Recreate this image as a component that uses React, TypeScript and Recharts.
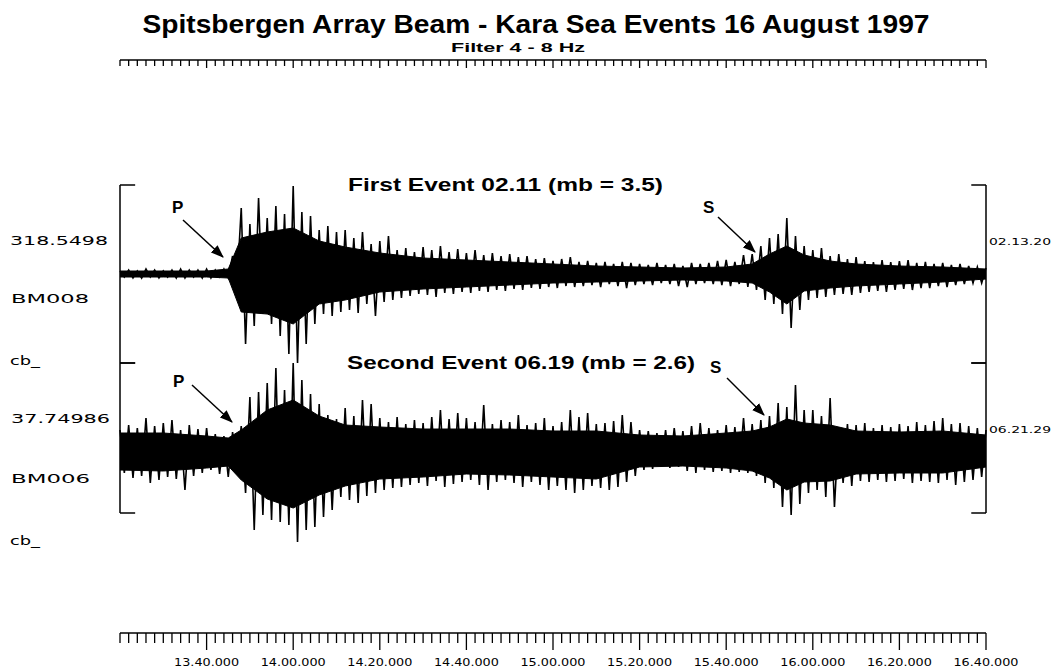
import { Area, ComposedChart, Line, ReferenceLine, XAxis, YAxis } from "recharts";

// time axis in seconds after 13.20.000 -> 800 s, one envelope sample every 2 s
const START = 800;
const STEP = 2;

// First event 02.11 (BM008): peak upward / downward excursion per sample
const beam1Up = [
  3, 4, 3, 5, 4, 3, 4, 5, 4, 4, 5, 4, 5,
  18, 66, 50, 76, 56, 68, 60, 88,
  62, 58, 44, 48, 42, 44, 36, 42, 30, 33,
  38, 24, 26, 22, 27, 24, 28, 22, 25, 21,
  24, 19, 21, 18, 20, 17, 18, 15, 16, 13,
  15, 17, 12, 13, 11, 12, 10, 12, 11, 10,
  9, 11, 9, 10, 8, 11, 10, 11, 13, 14,
  12, 19, 20, 28, 36, 40, 56, 38, 28, 24,
  26, 18, 20, 15, 17, 13, 12, 14, 12, 13,
  14, 11, 12, 10, 11, 9, 10, 8, 7, 6,
];
const beam1Down = [
  3, 4, 4, 3, 4, 3, 4, 4, 3, 4, 4, 3, 4,
  12, 70, 52, 40, 50, 62, 80, 89,
  70, 50, 40, 42, 38, 36, 39, 30, 42, 28,
  26, 24, 22, 20, 21, 23, 19, 20, 18, 19,
  17, 18, 16, 17, 15, 16, 14, 15, 13, 14,
  12, 13, 12, 11, 13, 10, 12, 14, 11, 10,
  11, 9, 10, 12, 13, 10, 9, 10, 11, 12,
  10, 13, 16, 26, 30, 40, 54, 36, 26, 24,
  23, 21, 20, 21, 19, 18, 17, 18, 16, 15,
  16, 14, 14, 12, 13, 11, 10, 9, 9, 8,
];

// Second event 06.19 (BM006)
const beam2Up = [
  22, 27, 24, 34, 26, 29, 32, 22, 27, 23, 24, 18, 16,
  20, 26, 55, 60, 69, 84, 62, 89,
  72, 58, 48, 37, 33, 44, 36, 52, 48, 34,
  30, 35, 28, 32, 29, 35, 42, 33, 39, 34,
  30, 47, 28, 32, 30, 37, 27, 29, 34, 26,
  30, 42, 35, 39, 28, 29, 31, 37, 30, 22,
  21, 19, 22, 24, 21, 26, 29, 24, 22, 27,
  25, 34, 28, 32, 36, 49, 45, 67, 42, 42,
  36, 54, 25, 28, 27, 29, 24, 27, 25, 28,
  26, 30, 27, 31, 34, 28, 29, 26, 24, 22,
];
const beam2Down = [
  21, 26, 24, 31, 28, 25, 27, 38, 24, 21, 18, 22, 25,
  15, 41, 78, 63, 68, 70, 73, 90,
  78, 75, 65, 58, 45, 48, 51, 44, 41, 38,
  36, 35, 33, 31, 34, 29, 35, 32, 30, 28,
  33, 38, 30, 28, 31, 35, 30, 33, 38, 34,
  38, 41, 38, 34, 36, 38, 35, 30, 24, 18,
  17, 15, 16, 15, 19, 21, 18, 20, 19, 21,
  20, 21, 24, 31, 36, 55, 63, 52, 41, 38,
  45, 55, 31, 34, 29, 30, 28, 30, 29, 27,
  31, 29, 30, 31, 28, 33, 30, 28, 25, 18,
];

// width of the solid (saturated) part of each trace, read at these times
const solidTimes = [800, 810, 820, 825, 828, 834, 840, 846, 852, 860, 870, 880, 890, 900, 910, 920, 930, 940, 946, 950, 954, 958, 964, 970, 980, 990, 1000];
const beam1SolidUp = [3, 3, 3, 5, 36, 42, 46, 33, 27, 21, 16, 14, 12, 10, 8, 7, 6, 7, 10, 20, 28, 19, 13, 10, 8, 7, 5];
const beam1SolidDown = [3, 3, 3, 4, 38, 40, 50, 30, 26, 18, 15, 13, 11, 9, 8, 7, 6, 7, 9, 18, 30, 17, 14, 12, 10, 8, 5];
const beam2SolidUp = [19, 19, 16, 14, 22, 42, 52, 36, 27, 25, 23, 23, 23, 21, 21, 17, 16, 19, 21, 25, 33, 29, 27, 21, 20, 21, 17];
const beam2SolidDown = [18, 19, 16, 14, 28, 47, 56, 43, 34, 27, 25, 22, 23, 25, 27, 15, 14, 16, 19, 26, 38, 30, 29, 22, 21, 21, 15];

const labelTimes = [820, 840, 860, 880, 900, 920, 940, 960, 980, 1000];
const tickLabels = [
  "13.40.000", "14.00.000", "14.20.000", "14.40.000", "15.00.000",
  "15.20.000", "15.40.000", "16.00.000", "16.20.000", "16.40.000",
];
const rulerTicks = Array.from({ length: 101 }, (_, i) => START + i * STEP);

// zig-zag: peak up at the even second, peak down at the following odd second
type Row = { t: number; z1: number; z2: number; s1: number[] | null; s2: number[] | null };
const rows: Row[] = [];
beam1Up.forEach((u, i) => {
  const t = START + i * STEP;
  rows.push({ t, z1: u, z2: beam2Up[i], s1: null, s2: null });
  if (t + 1 <= 1000) rows.push({ t: t + 1, z1: -beam1Down[i], z2: -beam2Down[i], s1: null, s2: null });
});
solidTimes.forEach((t, k) => {
  const row = rows.find((r) => r.t === t);
  if (row) {
    row.s1 = [-beam1SolidDown[k], beam1SolidUp[k]];
    row.s2 = [-beam2SolidDown[k], beam2SolidUp[k]];
  }
});

const ink = "#000";
const sideFont = "DejaVu Sans, sans-serif";
const boldFont = "Liberation Sans, Arial, sans-serif";

function RulerTick(props: any) {
  const { x, y, payload, labelled } = props;
  const idx = labelTimes.indexOf(payload.value);
  const major = idx >= 0;
  const len = labelled ? (major ? 17 : 10) : major ? 8 : 6;
  return (
    <g>
      <line x1={x} x2={x} y1={y} y2={y + len} stroke={ink} strokeWidth={1.3} />
      {labelled && major ? (
        <text
          x={x}
          y={y + 33}
          textAnchor="middle"
          fontFamily={sideFont}
          fontSize={10.5}
          fill={ink}
          textLength={65}
          lengthAdjust="spacingAndGlyphs"
        >
          {tickLabels[idx]}
        </text>
      ) : null}
    </g>
  );
}

function bracket(axis: string, top: number, bottom: number) {
  const seg = (x1: number, y1: number, x2: number, y2: number, key: string) => (
    <ReferenceLine
      key={key}
      yAxisId={axis}
      segment={[{ x: x1, y: y1 }, { x: x2, y: y2 }]}
      stroke={ink}
      strokeWidth={1.5}
      ifOverflow="visible"
    />
  );
  return [
    seg(800, top, 800, bottom, axis + "l"),
    seg(800, top, 803.5, top, axis + "lt"),
    seg(800, bottom, 803.5, bottom, axis + "lb"),
    seg(1000, top, 1000, bottom, axis + "r"),
    seg(996.6, top, 1000, top, axis + "rt"),
    seg(996.6, bottom, 1000, bottom, axis + "rb"),
  ];
}

function Side({ x, y, w, size, children }: any) {
  return (
    <text x={x} y={y} fontFamily={sideFont} fontSize={size} fill={ink} textLength={w} lengthAdjust="spacingAndGlyphs">
      {children}
    </text>
  );
}

function Arrow({ x1, y1, x2, y2 }: any) {
  return <line x1={x1} y1={y1} x2={x2} y2={y2} stroke={ink} strokeWidth={1.5} markerEnd="url(#head)" />;
}

export default function App() {
  return (
    <div style={{ position: "absolute", left: 0, top: 0, width: 1052, height: 671, background: "#fff" }}>
      <ComposedChart width={1052} height={671} data={rows} margin={{ top: 50, right: 66, bottom: 8, left: 120 }}>
        <XAxis
          dataKey="t"
          type="number"
          domain={[800, 1000]}
          ticks={rulerTicks}
          interval={0}
          tickSize={0}
          tickMargin={0}
          tickLine={false}
          axisLine={{ stroke: ink, strokeWidth: 1.5 }}
          height={30}
          tick={(p: any) => <RulerTick {...p} labelled />}
        />
        <XAxis
          xAxisId="top"
          orientation="top"
          dataKey="t"
          type="number"
          domain={[800, 1000]}
          ticks={rulerTicks}
          interval={0}
          tickSize={0}
          tickMargin={0}
          tickLine={false}
          axisLine={{ stroke: ink, strokeWidth: 1.5 }}
          height={10}
          tick={(p: any) => <RulerTick {...p} />}
        />
        <YAxis yAxisId="a" hide domain={[-359, 214]} />
        <YAxis yAxisId="b" hide domain={[-181, 392]} />
        {bracket("a", 89, -89)}
        {bracket("b", 89, -61)}
        <Area yAxisId="a" dataKey="s1" type="linear" connectNulls fill={ink} fillOpacity={1} stroke={ink} strokeWidth={1} dot={false} activeDot={false} isAnimationActive={false} />
        <Area yAxisId="b" dataKey="s2" type="linear" connectNulls fill={ink} fillOpacity={1} stroke={ink} strokeWidth={1} dot={false} activeDot={false} isAnimationActive={false} />
        <Line yAxisId="a" dataKey="z1" type="linear" stroke={ink} strokeWidth={1.6} dot={false} activeDot={false} isAnimationActive={false} />
        <Line yAxisId="b" dataKey="z2" type="linear" stroke={ink} strokeWidth={1.6} dot={false} activeDot={false} isAnimationActive={false} />
      </ComposedChart>
      <svg width={1052} height={671} style={{ position: "absolute", left: 0, top: 0, pointerEvents: "none" }}>
        <defs>
          <marker id="head" markerWidth="13" markerHeight="10" refX="12" refY="5" orient="auto" markerUnits="userSpaceOnUse">
            <path d="M0,0 L13,5 L0,10 z" fill={ink} />
          </marker>
        </defs>
        <text x={536} y={33} textAnchor="middle" fontFamily={boldFont} fontWeight="bold" fontSize={25} fill={ink} textLength={787} lengthAdjust="spacingAndGlyphs">
          Spitsbergen Array Beam - Kara Sea Events 16 August 1997
        </text>
        <text x={518} y={52} textAnchor="middle" fontFamily={boldFont} fontWeight="bold" fontSize={13} fill={ink} textLength={134} lengthAdjust="spacingAndGlyphs">
          Filter 4 - 8 Hz
        </text>

        <text x={348} y={191} fontFamily={boldFont} fontWeight="bold" fontSize={19} fill={ink} textLength={315} lengthAdjust="spacingAndGlyphs">
          First Event 02.11 (mb = 3.5)
        </text>
        <text x={347} y={369} fontFamily={boldFont} fontWeight="bold" fontSize={19} fill={ink} textLength={348} lengthAdjust="spacingAndGlyphs">
          Second Event 06.19 (mb = 2.6)
        </text>

        <text x={172} y={213} fontFamily={boldFont} fontWeight="bold" fontSize={17} fill={ink}>P</text>
        <Arrow x1={183} y1={220} x2={223} y2={257} />
        <text x={173} y={387} fontFamily={boldFont} fontWeight="bold" fontSize={17} fill={ink}>P</text>
        <Arrow x1={192} y1={385} x2={232} y2={422} />
        <text x={703} y={213} fontFamily={boldFont} fontWeight="bold" fontSize={17} fill={ink}>S</text>
        <Arrow x1={718} y1={217} x2={755} y2={252} />
        <text x={710} y={373} fontFamily={boldFont} fontWeight="bold" fontSize={17} fill={ink}>S</text>
        <Arrow x1={727} y1={378} x2={764} y2={415} />

        <Side x={10} y={245} w={98} size={12}>318.5498</Side>
        <Side x={11} y={303} w={78} size={12}>BM008</Side>
        <Side x={10} y={365} w={30} size={12}>cb_</Side>
        <Side x={11} y={423} w={99} size={12}>37.74986</Side>
        <Side x={11} y={483} w={79} size={12}>BM006</Side>
        <Side x={10} y={545} w={30} size={12}>cb_</Side>
        <Side x={989} y={245} w={62} size={9}>02.13.20</Side>
        <Side x={989} y={433} w={62} size={9}>06.21.29</Side>
      </svg>
    </div>
  );
}
